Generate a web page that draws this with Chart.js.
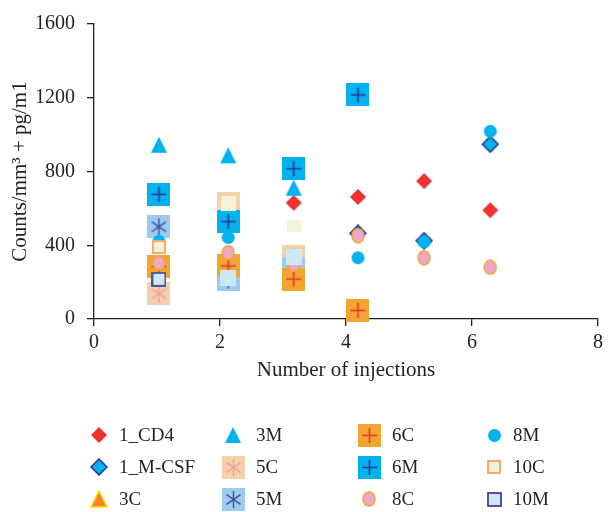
<!DOCTYPE html>
<html>
<head>
<meta charset="utf-8">
<script src="https://cdn.jsdelivr.net/npm/chart.js@4.4.1/dist/chart.umd.min.js"></script>
<style>
  html, body { margin: 0; padding: 0; background: #fff; }
</style>
</head>
<body>
<canvas id="injections_chart" width="609" height="512"></canvas>
<script>
// [number of injections, value]
const cd4 = [[3.17, 630], [4.19, 662], [5.24, 748], [6.29, 590]];
const mcsf = [[4.19, 465], [5.24, 425], [6.29, 948]];
const c3 = [];
const m3 = [[1.03, 945], [2.13, 888], [3.17, 712]];
const c5 = [[1.03, 137], [2.13, 625], [3.17, 337]];
const m5 = [[1.03, 500], [2.13, 212], [3.17, 272]];
const c6 = [[1.03, 284], [2.13, 288], [3.17, 216], [4.19, 47]];
const m6 = [[1.03, 676], [2.13, 528], [3.17, 815], [4.19, 1215]];
const c8 = [[1.03, 305], [2.13, 360], [3.17, 296], [4.19, 452], [5.24, 332], [6.29, 280]];
const m8 = [[1.03, 422], [2.13, 442], [4.19, 332], [5.24, 418], [6.29, 1018]];
const c10 = [[1.03, 390], [2.13, 626], [3.17, 502]];
const m10 = [[1.03, 215], [2.13, 220], [3.17, 338]];

const yTicks = [0, 400, 800, 1200, 1600];
const xTicks = [0, 2, 4, 6, 8];

const ink = '#231f20';
const serif = 'Liberation Serif';

const makeMarker = (w, h, paint) => {
  const c = document.createElement('canvas');
  c.width = w;
  c.height = h;
  paint(c.getContext('2d'), w, h);
  return c;
};

const diamond = (fill, stroke) => makeMarker(18, 18, (ctx, w, h) => {
  ctx.beginPath();
  ctx.moveTo(w / 2, 1);
  ctx.lineTo(w - 1, h / 2);
  ctx.lineTo(w / 2, h - 1);
  ctx.lineTo(1, h / 2);
  ctx.closePath();
  ctx.fillStyle = fill;
  ctx.fill();
  if (stroke) { ctx.strokeStyle = stroke; ctx.lineWidth = 1.5; ctx.stroke(); }
});

const triangle = (fill, stroke) => makeMarker(18, 18, (ctx, w, h) => {
  ctx.beginPath();
  ctx.moveTo(w / 2, 1);
  ctx.lineTo(w - 1, h - 1);
  ctx.lineTo(1, h - 1);
  ctx.closePath();
  ctx.fillStyle = fill;
  ctx.fill();
  if (stroke) { ctx.strokeStyle = stroke; ctx.lineWidth = 1.5; ctx.stroke(); }
});

const crossBox = (bg, line) => makeMarker(23, 23, (ctx, w, h) => {
  ctx.fillStyle = bg;
  ctx.fillRect(0, 0, w, h);
  ctx.strokeStyle = line;
  ctx.lineWidth = 1.6;
  ctx.beginPath();
  ctx.moveTo(w / 2, 4); ctx.lineTo(w / 2, h - 4);
  ctx.moveTo(4, h / 2); ctx.lineTo(w - 4, h / 2);
  ctx.stroke();
});

const starBox = (bg, line) => makeMarker(23, 23, (ctx, w, h) => {
  ctx.fillStyle = bg;
  ctx.fillRect(0, 0, w, h);
  ctx.strokeStyle = line;
  ctx.lineWidth = 1.4;
  ctx.beginPath();
  [90, 35, 145].forEach(deg => {
    const a = deg * Math.PI / 180;
    const dx = Math.cos(a) * 8.5, dy = Math.sin(a) * 8.5;
    ctx.moveTo(w / 2 - dx, h / 2 - dy);
    ctx.lineTo(w / 2 + dx, h / 2 + dy);
  });
  ctx.stroke();
});

const blob = (w, h, fill, stroke) => makeMarker(w, h, (ctx) => {
  ctx.beginPath();
  ctx.ellipse(w / 2, h / 2, w / 2 - 1, h / 2 - 1, 0, 0, Math.PI * 2);
  ctx.fillStyle = fill;
  ctx.fill();
  if (stroke) { ctx.strokeStyle = stroke; ctx.lineWidth = 1.4; ctx.stroke(); }
});

const box = (w, h, fill, stroke) => makeMarker(w, h, (ctx) => {
  ctx.fillStyle = fill;
  ctx.fillRect(0, 0, w, h);
  if (stroke) { ctx.strokeStyle = stroke; ctx.lineWidth = 1.6; ctx.strokeRect(1, 1, w - 2, h - 2); }
});

const cream10 = box(14, 14, '#f5f2da', '#f29a52');
const pale10 = box(15, 15, '#cde8f3', '#2e3192');

const series = [
  { label: '1_CD4', data: cd4, style: diamond('#ee3234') },
  { label: '1_M-CSF', data: mcsf, style: diamond('#00b2ee', '#2e3192') },
  { label: '3C', data: c3, style: triangle('#f0812f', '#ffe100') },
  { label: '3M', data: m3, style: triangle('#00b2ee') },
  { label: '5C', data: c5, style: starBox('#f5d0ac', '#f2a0a0') },
  { label: '5M', data: m5, style: starBox('#9dcbee', '#3f51a3') },
  { label: '6C', data: c6, style: crossBox('#f2a52f', '#ee3234') },
  { label: '6M', data: m6, style: crossBox('#00b2ee', '#2e3192') },
  { label: '8C', data: c8, style: blob(14, 16, '#eea7c6', '#f2a52f') },
  { label: '8M', data: m8, style: blob(15, 15, '#00b2ee') },
  { label: '10C', data: c10, style: [cream10, box(15, 15, '#f5f2da'), box(14, 12, '#f5f2da')], legend: cream10 },
  { label: '10M', data: m10, style: [pale10, box(16, 16, '#cde8f3'), box(16, 16, '#cde8f3')], legend: pale10 }
];

// legend in 4 columns, filled top to bottom
const gridLegend = {
  id: 'gridLegend',
  afterDraw(chart, args, opts) {
    const ctx = chart.ctx;
    ctx.save();
    ctx.font = `19px "${serif}"`;
    ctx.fillStyle = ink;
    ctx.textBaseline = 'middle';
    series.forEach((s, i) => {
      const col = Math.floor(i / 3);
      const y = opts.rowY[i % 3];
      const img = s.legend || s.style;
      const mx = opts.markerX[col];
      ctx.drawImage(img, Math.round(mx - img.width / 2), Math.round(y - img.height / 2));
      ctx.fillText(s.label, opts.textX[col], y + 1);
    });
    ctx.restore();
  }
};

const tickFont = { family: serif, size: 20 };
const titleFont = { family: serif, size: 21 };

new Chart(document.getElementById('injections_chart'), {
  type: 'scatter',
  data: {
    datasets: series.map((s, i) => ({
      label: s.label,
      data: s.data.map(([x, y]) => ({ x, y })),
      pointStyle: s.style,
      pointRadius: 10,
      pointHoverRadius: 10,
      order: series.length - i,
      clip: false
    }))
  },
  options: {
    responsive: false,
    animation: false,
    layout: { padding: { left: 0, right: 5, top: 17, bottom: 127 } },
    scales: {
      x: {
        type: 'linear',
        min: 0,
        max: 8,
        afterBuildTicks: axis => { axis.ticks = xTicks.map(v => ({ value: v })); },
        afterFit: axis => { axis.height = 66; },
        ticks: { font: tickFont, color: ink, padding: 5, maxRotation: 0, callback: v => String(v) },
        grid: { drawOnChartArea: false, tickLength: 7, color: ink, lineWidth: 1.3 },
        border: { color: ink, width: 1.3 },
        title: { display: true, text: 'Number of injections', font: titleFont, color: ink, padding: { top: 0, bottom: 2 } }
      },
      y: {
        min: 0,
        max: 1600,
        afterBuildTicks: axis => { axis.ticks = yTicks.map(v => ({ value: v })); },
        afterFit: axis => { axis.width = 94; },
        ticks: { font: tickFont, color: ink, padding: 12, callback: v => String(v) },
        grid: { drawOnChartArea: false, tickLength: 7, color: ink, lineWidth: 1.3 },
        border: { color: ink, width: 1.3 },
        title: { display: true, text: 'Counts/mm\u00b3 + pg/m1', font: titleFont, color: ink, padding: { top: 8, bottom: 0 } }
      }
    },
    plugins: {
      legend: { display: false },
      tooltip: { enabled: false },
      gridLegend: { markerX: [99, 233, 369, 494], textX: [119, 256, 392, 513], rowY: [435, 467, 499] }
    }
  },
  plugins: [gridLegend]
});
</script>
</body>
</html>
